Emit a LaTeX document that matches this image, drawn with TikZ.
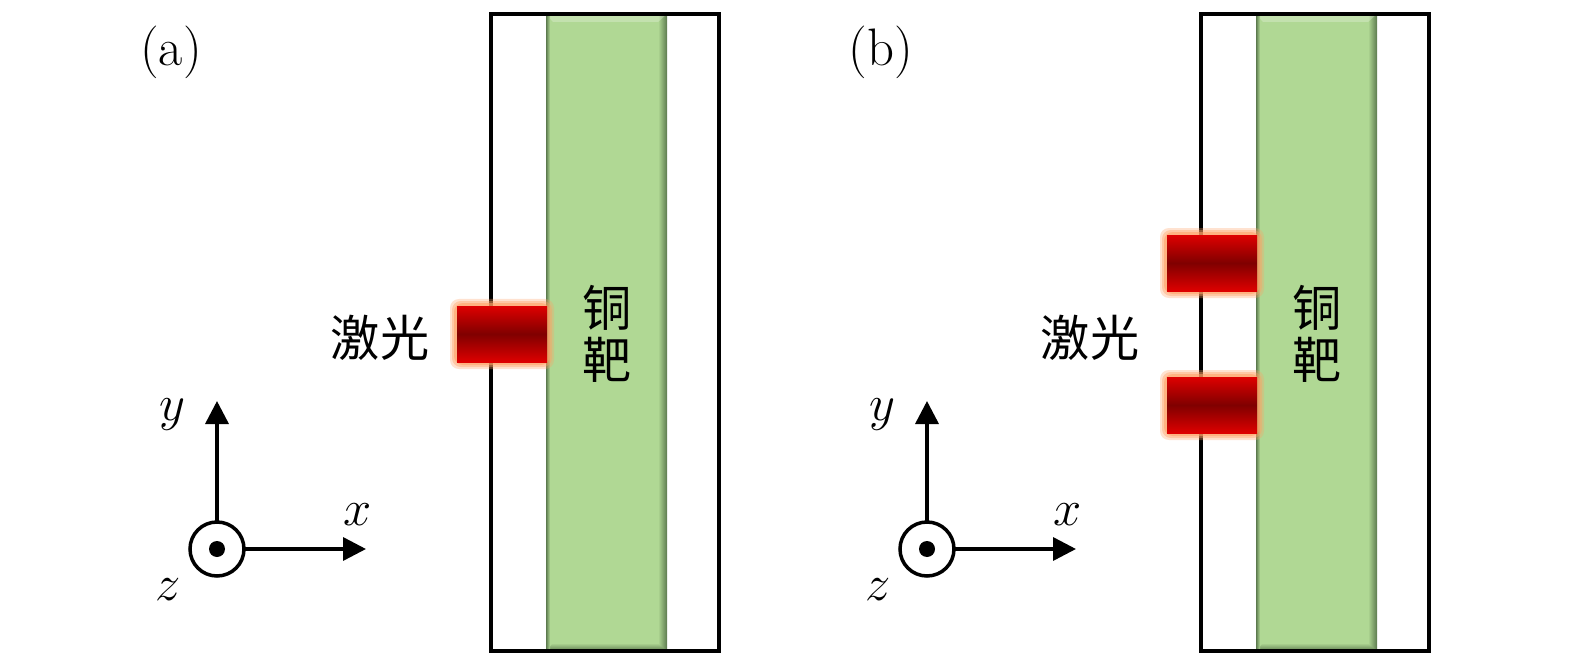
\documentclass[tikz,border=0pt]{standalone}
\usepackage{fontspec}
\newfontfamily\cjk{Noto Sans CJK SC}
\usetikzlibrary{arrows.meta}
\definecolor{targetgreen}{RGB}{176,216,148}
\definecolor{edgegreen}{RGB}{92,122,78}
\definecolor{laserred}{RGB}{222,0,0}
\definecolor{laserdark}{RGB}{128,0,0}
\definecolor{glow}{RGB}{255,160,100}
\begin{document}
\begin{tikzpicture}[
  frame/.style={line width=1pt},
  axis/.style={line width=1pt,-{Triangle[length=2.3mm,width=2.3mm]}},
  lbl/.style={font=\fontsize{15}{18}\selectfont},
  cjklbl/.style={font=\fontsize{14}{17}\selectfont\cjk,align=center},
  pulse/.style={top color=laserred,bottom color=laserred,middle color=laserdark}]
 \useasboundingbox (0,0) rectangle (15.75,6.69);
 \foreach \dx/\tag in {0/a,7.1/b}{
 \begin{scope}[xshift=\dx cm]
 % target
 \fill[targetgreen](5.46,0.18) rectangle (6.67,6.55);
 \shade[left color=targetgreen,right color=edgegreen](6.58,0.18) rectangle (6.67,6.55);
 \shade[top color=targetgreen,bottom color=edgegreen](5.46,0.18)--(6.67,0.18)--(6.58,0.26)--(5.53,0.26)--cycle;
 \fill[white,opacity=0.25](5.46,6.55)--(6.67,6.55)--(6.58,6.47)--(5.53,6.47)--cycle;
 \shade[left color=edgegreen,right color=targetgreen](5.46,0.18) rectangle (5.50,6.55);
 \draw[frame](4.91,0.18) rectangle (7.19,6.55);
 \node[lbl] (label-\tag) at (1.71,6.17) {(\tag)};
 \node[cjklbl] (copper-\tag) at (6.07,3.35) {铜\\[-2pt]靶};
 \node[cjklbl] (laser-\tag) at (3.80,3.31) {激光};
 % axes
 \coordinate (o-\tag) at (2.17,1.20);
 \coordinate (ytip-\tag) at (2.17,2.68);
 \coordinate (xtip-\tag) at (3.66,1.20);
 \draw[axis](o-\tag)--(ytip-\tag);
 \draw[axis](o-\tag)--(xtip-\tag);
 \draw[line width=1pt,fill=white](o-\tag) circle (0.27);
 \fill (o-\tag) circle (0.08);
 \node[lbl] (y-\tag) at (1.72,2.54) {$y$};
 \node[lbl] (x-\tag) at (3.58,1.54) {$x$};
 \node[lbl] (z-\tag) at (1.68,0.79) {$z$};
 \end{scope}}
 % pulses
 \foreach \xa/\ya in {4.57/3.07,11.67/3.78,11.67/2.36}{
 \foreach \g/\o in {0.07/0.3,0.05/0.4,0.03/0.55}
  \fill[glow,opacity=\o,rounded corners=2.5pt](\xa-\g,\ya-\g) rectangle (\xa+0.9+\g,\ya+0.56+\g);
 \shade[pulse](\xa,\ya) rectangle (\xa+0.9,\ya+0.56);}
\end{tikzpicture}
\end{document}
